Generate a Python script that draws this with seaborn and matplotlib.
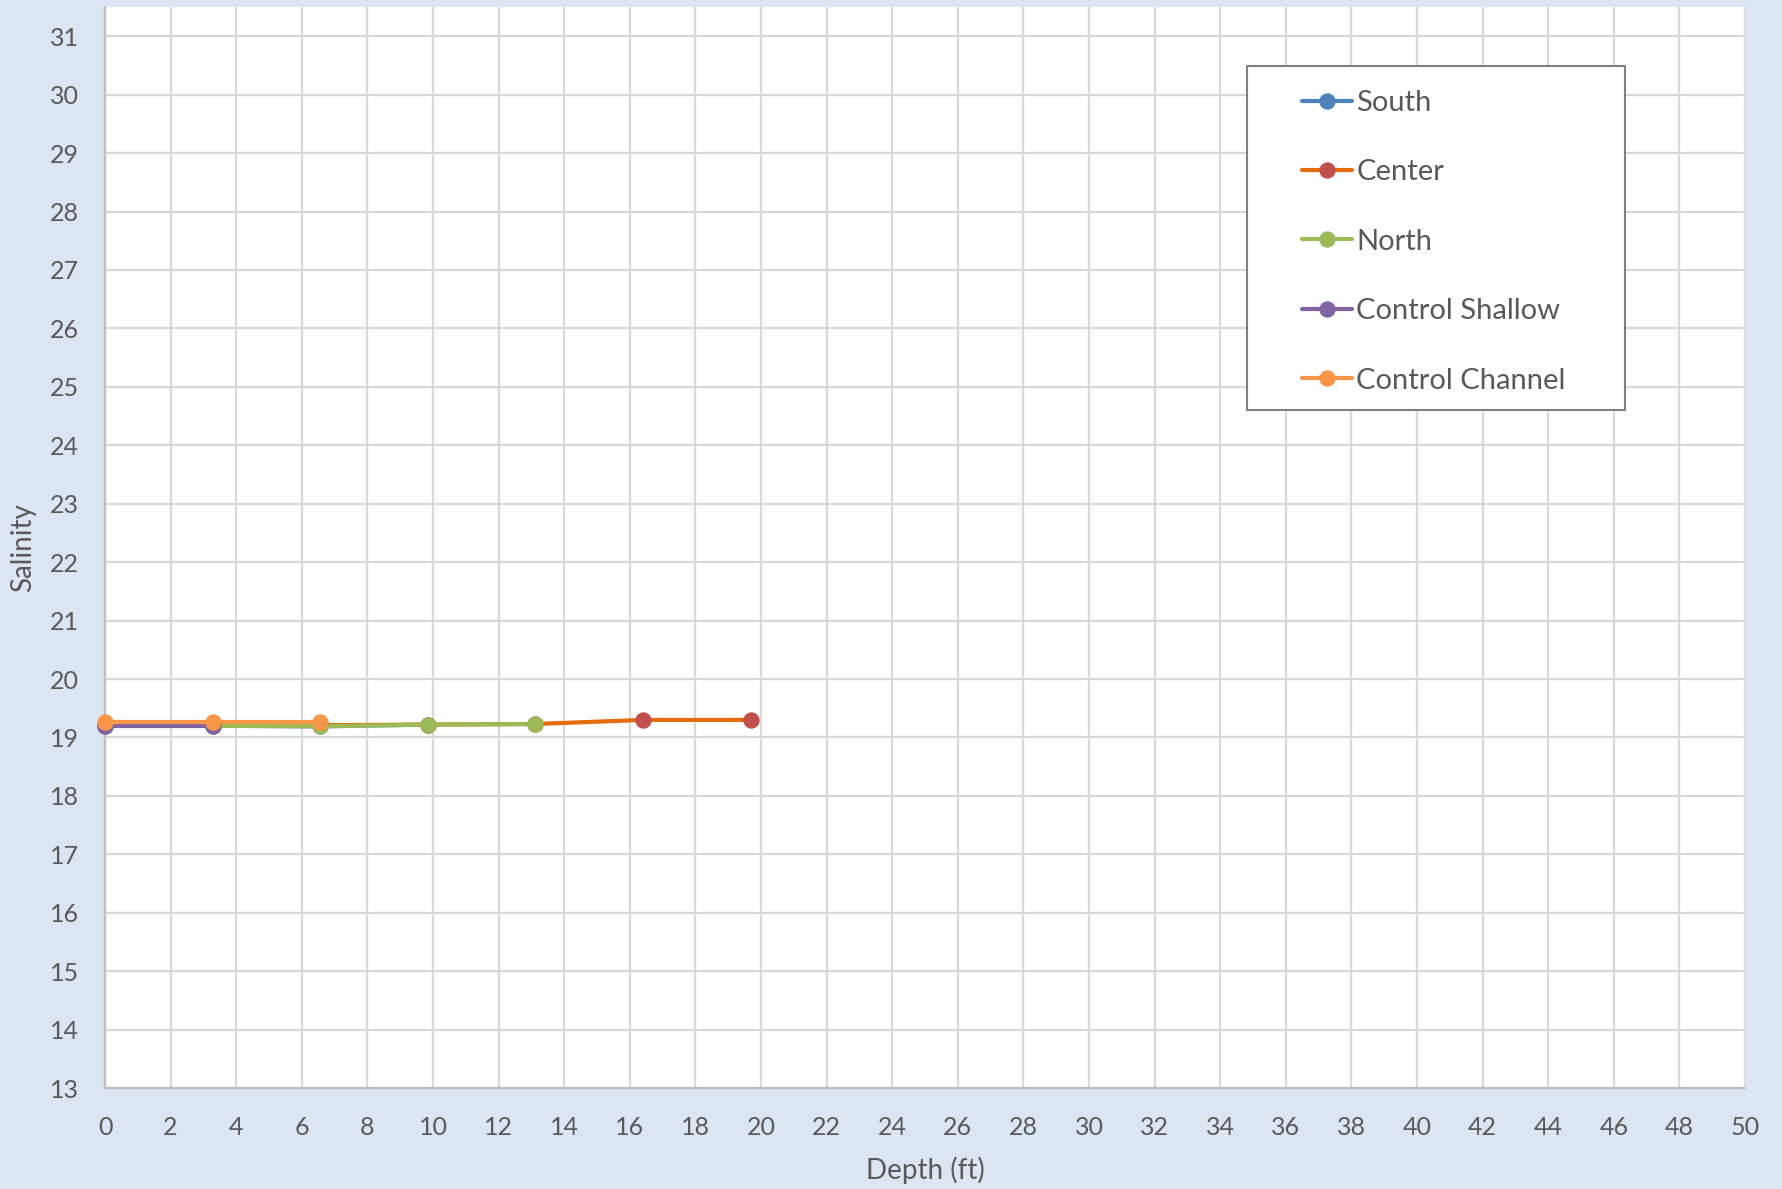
import matplotlib
matplotlib.use("Agg")
import matplotlib.pyplot as plt
from matplotlib.patches import Rectangle
import seaborn as sns

# Salinity profiles by depth (ft) at each station
depth_south = [0.0, 3.28, 6.56, 9.84]
sal_south = [19.20, 19.20, 19.19, 19.22]

depth_center = [0.0, 3.28, 6.56, 9.84, 13.12, 16.40, 19.69]
sal_center = [19.21, 19.21, 19.21, 19.22, 19.23, 19.30, 19.30]

depth_north = [0.0, 3.28, 6.56, 9.84, 13.12]
sal_north = [19.20, 19.20, 19.19, 19.22, 19.23]

depth_shallow = [0.0, 3.28]
sal_shallow = [19.20, 19.20]

depth_channel = [0.0, 3.28, 6.56]
sal_channel = [19.26, 19.26, 19.26]

series_names = ["South", "Center", "North", "Control Shallow", "Control Channel"]
line_colors = ["#4F81BD", "#E46C0A", "#9BBB59", "#8064A2", "#F79646"]
marker_colors = ["#4F81BD", "#C0504D", "#9BBB59", "#8064A2", "#F79646"]

x_ticks = list(range(0, 51, 2))
y_ticks = list(range(13, 32))

sns.set_theme(style="white")
plt.rcParams["font.family"] = ["Lato", "DejaVu Sans"]

text_color = "#595959"
bg_color = "#DCE6F2"

fig = plt.figure(figsize=(17.83, 11.89), dpi=100, facecolor=bg_color)
ax = fig.add_axes([0.0589, 0.0849, 0.9198, 0.9092])
ax.set_facecolor("white")

data = [
    (depth_south, sal_south),
    (depth_center, sal_center),
    (depth_north, sal_north),
    (depth_shallow, sal_shallow),
    (depth_channel, sal_channel),
]

for (xs, ys), name, lc, mc in zip(data, series_names, line_colors, marker_colors):
    sns.lineplot(
        x=xs, y=ys, ax=ax, sort=False, color=lc, linewidth=3.0,
        marker="o", markersize=11, markerfacecolor=mc, markeredgecolor=mc,
        label=name, clip_on=False, zorder=3,
    )

ax.set_xlim(0, 50)
ax.set_ylim(13, 31.5)
ax.set_xticks(x_ticks)
ax.set_yticks(y_ticks)
ax.grid(True, color="#D9D9D9", linewidth=1.6)
ax.set_axisbelow(True)

for side in ["top", "right"]:
    ax.spines[side].set_visible(False)
for side in ["left", "bottom"]:
    ax.spines[side].set_color("#BFBFBF")
    ax.spines[side].set_linewidth(1.6)

ax.tick_params(axis="both", length=0, labelsize=18, labelcolor=text_color)
ax.tick_params(axis="x", pad=20)
ax.tick_params(axis="y", pad=19)

ax.set_xlabel("Depth (ft)", fontsize=20, color=text_color, labelpad=13)
ax.set_ylabel("Salinity", fontsize=20, color=text_color, labelpad=10)

# Legend panel with a white box behind it
box = Rectangle((0.6963, 0.6272), 0.2305, 0.3182, transform=ax.transAxes,
                facecolor="white", edgecolor="#808080", linewidth=1.5, zorder=4)
ax.add_patch(box)

leg = ax.legend(
    loc="upper left", bbox_to_anchor=(0.730, 0.9235), frameon=False,
    fontsize=21, labelspacing=1.49, handlelength=1.7, handletextpad=0.15,
    borderpad=0, borderaxespad=0, labelcolor=text_color,
)
leg.set_zorder(5)

fig.savefig("out.png", dpi=100, facecolor=bg_color)
